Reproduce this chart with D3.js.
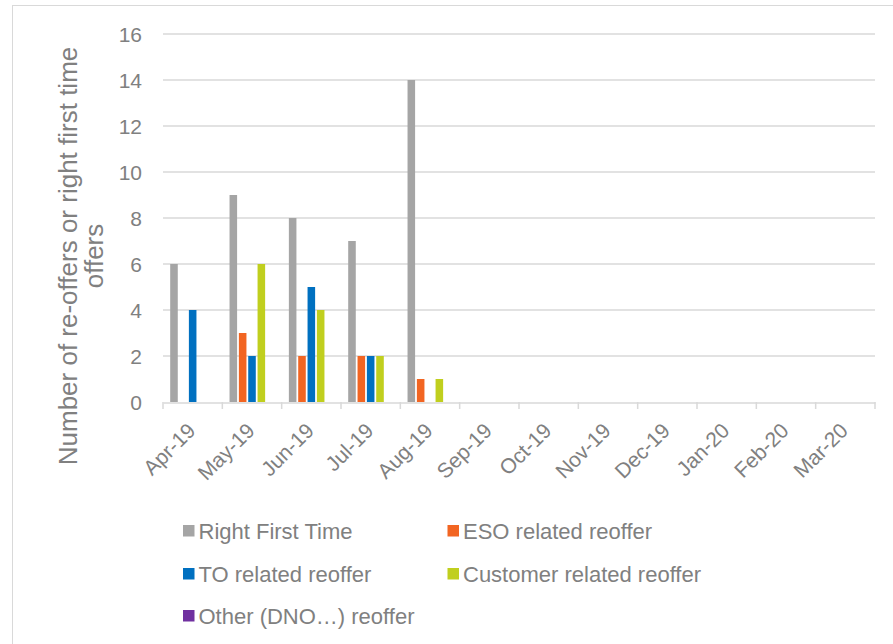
<!DOCTYPE html>
<html>
<head>
<meta charset="utf-8">
<script src="https://cdn.jsdelivr.net/npm/d3@7"></script>
<style>
body { margin:0; background:#fff; }
text { font-family: "Liberation Sans", Arial, sans-serif; }
</style>
</head>
<body>
<div id="chart"></div>
<script>
var months = ["Apr-19","May-19","Jun-19","Jul-19","Aug-19","Sep-19","Oct-19","Nov-19","Dec-19","Jan-20","Feb-20","Mar-20"];
var seriesNames = ["Right First Time","ESO related reoffer","TO related reoffer","Customer related reoffer","Other (DNO\u2026) reoffer"];
var seriesColors = ["#A5A5A5","#F26522","#0070C0","#C0CF1E","#7030A0"];
var rightFirst = [6,9,8,7,14,0,0,0,0,0,0,0];
var esoReoffer = [0,3,2,2,1,0,0,0,0,0,0,0];
var toReoffer = [4,2,5,2,0,0,0,0,0,0,0,0];
var custReoffer = [0,6,4,2,1,0,0,0,0,0,0,0];
var otherReoffer = [0,0,0,0,0,0,0,0,0,0,0,0];
var yTicks = [0,2,4,6,8,10,12,14,16];

var allSeries = [rightFirst, esoReoffer, toReoffer, custReoffer, otherReoffer];

var svg = d3.select("#chart").append("svg")
            .attr("width", 893)
            .attr("height", 644);

// outer chart border
svg.append("rect")
   .attr("x", 12.5).attr("y", 5.5)
   .attr("width", 900).attr("height", 700)
   .attr("fill", "none")
   .attr("stroke", "#D9D9D9");

var x0 = d3.scaleBand().domain(months).range([163, 875]);
var x1 = d3.scaleBand().domain(d3.range(5)).range([7.2, x0.bandwidth() - 7.2]).paddingInner(0.19);
var y = d3.scaleLinear().domain([0, 16]).range([402, 34]);

// gridlines
svg.append("g").selectAll("line")
   .data(yTicks.filter(function(d){ return d > 0; }))
   .enter().append("line")
   .attr("x1", 163).attr("x2", 875)
   .attr("y1", function(d){ return y(d); })
   .attr("y2", function(d){ return y(d); })
   .attr("stroke", "#D9D9D9")
   .attr("stroke-width", 1.5);

// y tick labels
svg.append("g").selectAll("text")
   .data(yTicks)
   .enter().append("text")
   .attr("x", 142)
   .attr("y", function(d){ return y(d) + 7.5; })
   .attr("text-anchor", "end")
   .attr("font-size", "21px")
   .attr("fill", "#808080")
   .text(function(d){ return d; });

// bars
var groups = svg.append("g").selectAll("g")
   .data(months)
   .enter().append("g")
   .attr("transform", function(d){ return "translate(" + x0(d) + ",0)"; });

groups.selectAll("rect")
   .data(function(d, i){ return allSeries.map(function(s, k){ return {k: k, v: s[i]}; }); })
   .enter().append("rect")
   .attr("x", function(d){ return x1(d.k); })
   .attr("width", x1.bandwidth())
   .attr("y", function(d){ return y(d.v); })
   .attr("height", function(d){ return y(0) - y(d.v); })
   .attr("fill", function(d){ return seriesColors[d.k]; });

// x axis
var xAxis = d3.axisBottom(x0).tickSize(0).tickFormat("");
var xg = svg.append("g").attr("transform", "translate(0,402.5)").call(xAxis);
xg.select(".domain").attr("stroke", "#D9D9D9").attr("stroke-width", 1.5);

svg.append("g").selectAll("line")
   .data(d3.range(13))
   .enter().append("line")
   .attr("x1", function(d){ return 163 + d * x0.step(); })
   .attr("x2", function(d){ return 163 + d * x0.step(); })
   .attr("y1", 402).attr("y2", 409)
   .attr("stroke", "#D9D9D9")
   .attr("stroke-width", 1.5);

svg.append("g").selectAll("text")
   .data(months)
   .enter().append("text")
   .attr("transform", function(d){
       return "translate(" + (x0(d) + x0.bandwidth() / 2 + 4) + ",432) rotate(-45)";
   })
   .attr("text-anchor", "end")
   .attr("font-size", "21px")
   .attr("fill", "#808080")
   .text(function(d){ return d; });

// y axis title
var yt = svg.append("text")
   .attr("transform", "translate(77,256) rotate(-90)")
   .attr("text-anchor", "middle")
   .attr("font-size", "26px")
   .attr("fill", "#808080");
yt.append("tspan").attr("x", 0).attr("dy", 0).text("Number of re-offers or right first time");
yt.append("tspan").attr("x", 0).attr("dy", 26).text("offers");

// legend
var legendPos = [[183,531],[447.5,531],[183,574],[447.5,574],[183,616]];
var leg = svg.append("g").selectAll("g")
   .data(seriesNames)
   .enter().append("g")
   .attr("transform", function(d, i){ return "translate(" + legendPos[i][0] + "," + legendPos[i][1] + ")"; });
leg.append("rect")
   .attr("x", 0).attr("y", -6)
   .attr("width", 11.5).attr("height", 11.5)
   .attr("fill", function(d, i){ return seriesColors[i]; });
leg.append("text")
   .attr("x", 15.5).attr("y", 8)
   .attr("font-size", "22px")
   .attr("fill", "#808080")
   .text(function(d){ return d; });
</script>
</body>
</html>
